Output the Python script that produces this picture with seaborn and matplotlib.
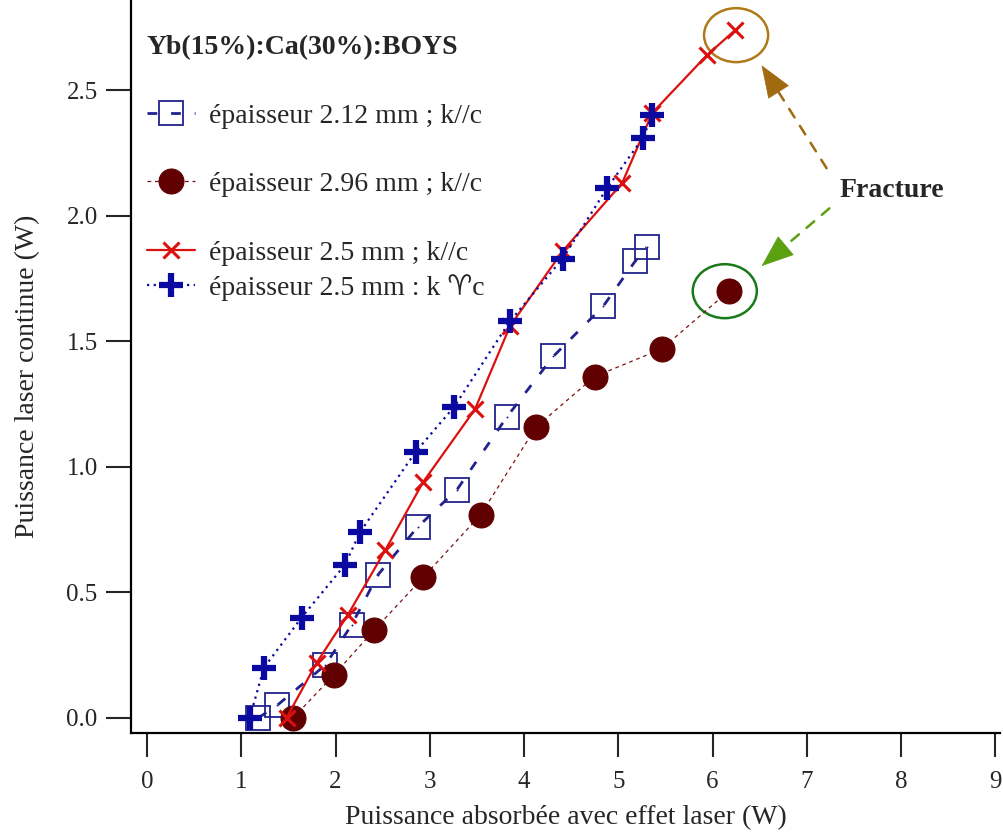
import matplotlib
matplotlib.use("Agg")
import matplotlib.pyplot as plt
from matplotlib.patches import Ellipse
import seaborn as sns
import pandas as pd

# épaisseur 2.12 mm ; k//c
x_212 = [1.18, 1.38, 1.89, 2.17, 2.45, 2.87, 3.29, 3.82, 4.31, 4.84, 5.18, 5.30]
y_212 = [0.00, 0.05, 0.21, 0.37, 0.57, 0.76, 0.91, 1.20, 1.44, 1.64, 1.82, 1.875]

# épaisseur 2.96 mm ; k//c
x_296 = [1.55, 1.98, 2.41, 2.93, 3.54, 4.13, 4.75, 5.46, 6.17]
y_296 = [0.00, 0.17, 0.35, 0.56, 0.81, 1.16, 1.36, 1.47, 1.70]

# épaisseur 2.5 mm ; k//c
x_25par = [1.48, 1.80, 2.13, 2.53, 2.93, 3.48, 3.85, 4.41, 5.04, 5.36, 5.94, 6.24]
y_25par = [0.00, 0.22, 0.41, 0.67, 0.94, 1.23, 1.56, 1.86, 2.13, 2.41, 2.64, 2.74]

# épaisseur 2.5 mm : k perp c
x_25perp = [1.09, 1.24, 1.64, 2.10, 2.26, 2.85, 3.26, 3.85, 4.41, 4.88, 5.26, 5.36]
y_25perp = [0.00, 0.20, 0.40, 0.61, 0.74, 1.06, 1.24, 1.58, 1.83, 2.11, 2.31, 2.40]

labels = ["épaisseur 2.12 mm ; k//c", "épaisseur 2.96 mm ; k//c",
          "épaisseur 2.5 mm ; k//c", "épaisseur 2.5 mm : k \u2648c"]
x_ticks = list(range(0, 10))
y_ticks = [0.0, 0.5, 1.0, 1.5, 2.0, 2.5]

sns.set_style("white")
plt.rcParams['font.family'] = ['Liberation Serif', 'DejaVu Sans']
plt.rcParams['font.size'] = 20

fig = plt.figure(figsize=(10.04, 8.34), dpi=100)
ax = fig.add_axes([131 / 1004, 101 / 834, 869 / 1004, 733 / 834])

d1 = pd.DataFrame({"x": x_212, "y": y_212})
d2 = pd.DataFrame({"x": x_296, "y": y_296})
d3 = pd.DataFrame({"x": x_25par, "y": y_25par})
d4 = pd.DataFrame({"x": x_25perp, "y": y_25perp})

navy = "#22228c"
red = "#dd1010"
blue = "#0a0aa0"
sns.lineplot(data=d1, x="x", y="y", ax=ax, sort=False, estimator=None,
             color=navy, lw=2.0, linestyle=(0, (3.5, 5)),
             marker="s", ms=17, mfc="none", mec=navy, mew=1.3, label=labels[0])
# tiny dot in the middle of each square
sns.scatterplot(data=d1, x="x", y="y", ax=ax, color=navy, s=2, linewidth=0, legend=False)
sns.lineplot(data=d2, x="x", y="y", ax=ax, sort=False, estimator=None,
             color="#7a1010", lw=0.9, linestyle=(0, (3, 3)),
             marker="o", ms=18, mfc="#600000", mec="#600000", label=labels[1])
sns.lineplot(data=d3, x="x", y="y", ax=ax, sort=False, estimator=None,
             color=red, lw=1.6, linestyle="-",
             marker="x", ms=11, mec=red, mew=2.2, label=labels[2])
sns.lineplot(data=d4, x="x", y="y", ax=ax, sort=False, estimator=None,
             color=blue, lw=1.6, linestyle=(0, (1, 2)),
             marker="+", ms=17, mec=blue, mew=4.5, label=labels[3])

ax.set_xlim(-0.17, 9.05)
ax.set_ylim(-0.06, 2.86)
ax.set_xticks(x_ticks)
ax.set_yticks(y_ticks)
ax.set_yticklabels([f"{v:.1f}" for v in y_ticks])
ax.tick_params(labelsize=18)
ax.set_xlabel("Puissance absorbée avec effet laser (W)", labelpad=9)
ax.set_ylabel("Puissance laser continue (W)")
ax.yaxis.set_label_coords(-0.105, 0.487)
for s in ["top", "right"]:
    ax.spines[s].set_visible(False)
for s in ["left", "bottom"]:
    ax.spines[s].set_color("black")
    ax.spines[s].set_linewidth(1.6)
ax.tick_params(axis="x", direction="out", length=17, width=1.5, pad=10, bottom=True)
ax.tick_params(axis="y", direction="out", length=18, width=1.5, pad=6, left=True)

# ellipses marking the fracture points
ax.add_patch(Ellipse((6.25, 2.72), 0.68, 0.215, fill=False, ec="#b07a1a", lw=1.8))
ax.add_patch(Ellipse((6.13, 1.70), 0.68, 0.215, fill=False, ec="#1a7a1a", lw=1.8))

# dashed arrows: dashed shaft + solid head
for tail, head, base, col in [((7.21, 2.19), (6.52, 2.60), (6.61, 2.547), "#a06a10"),
                              ((7.24, 2.03), (6.52, 1.80), (6.65, 1.841), "#5aa010")]:
    ax.annotate("", xy=base, xytext=tail,
                arrowprops=dict(arrowstyle="-", color=col, lw=1.8, ls=(0, (4, 4)),
                                shrinkA=0, shrinkB=0))
    ax.annotate("", xy=head, xytext=base,
                arrowprops=dict(arrowstyle="-|>,head_length=1.1,head_width=0.42",
                                color=col, lw=0.5, shrinkA=0, shrinkB=0))
ax.text(7.9, 2.10, "Fracture", ha="center", va="center", fontweight="bold", fontsize=20)

h, l = ax.get_legend_handles_labels()
leg1 = ax.legend(h[:3], l[:3], loc="upper left", bbox_to_anchor=(0.018, 0.952),
                 frameon=False, title="Yb(15%):Ca(30%):BOYS", alignment="left",
                 title_fontproperties={"weight": "bold", "size": 20},
                 handlelength=1.75, handletextpad=0.5, labelspacing=1.55,
                 borderpad=0, borderaxespad=0, fontsize=20)
ax.add_artist(leg1)
ax.legend(h[3:], l[3:], loc="upper left", bbox_to_anchor=(0.018, 0.626),
          frameon=False, handlelength=1.75, handletextpad=0.5,
          borderpad=0, borderaxespad=0, fontsize=20)

fig.savefig("out.png", dpi=100)
